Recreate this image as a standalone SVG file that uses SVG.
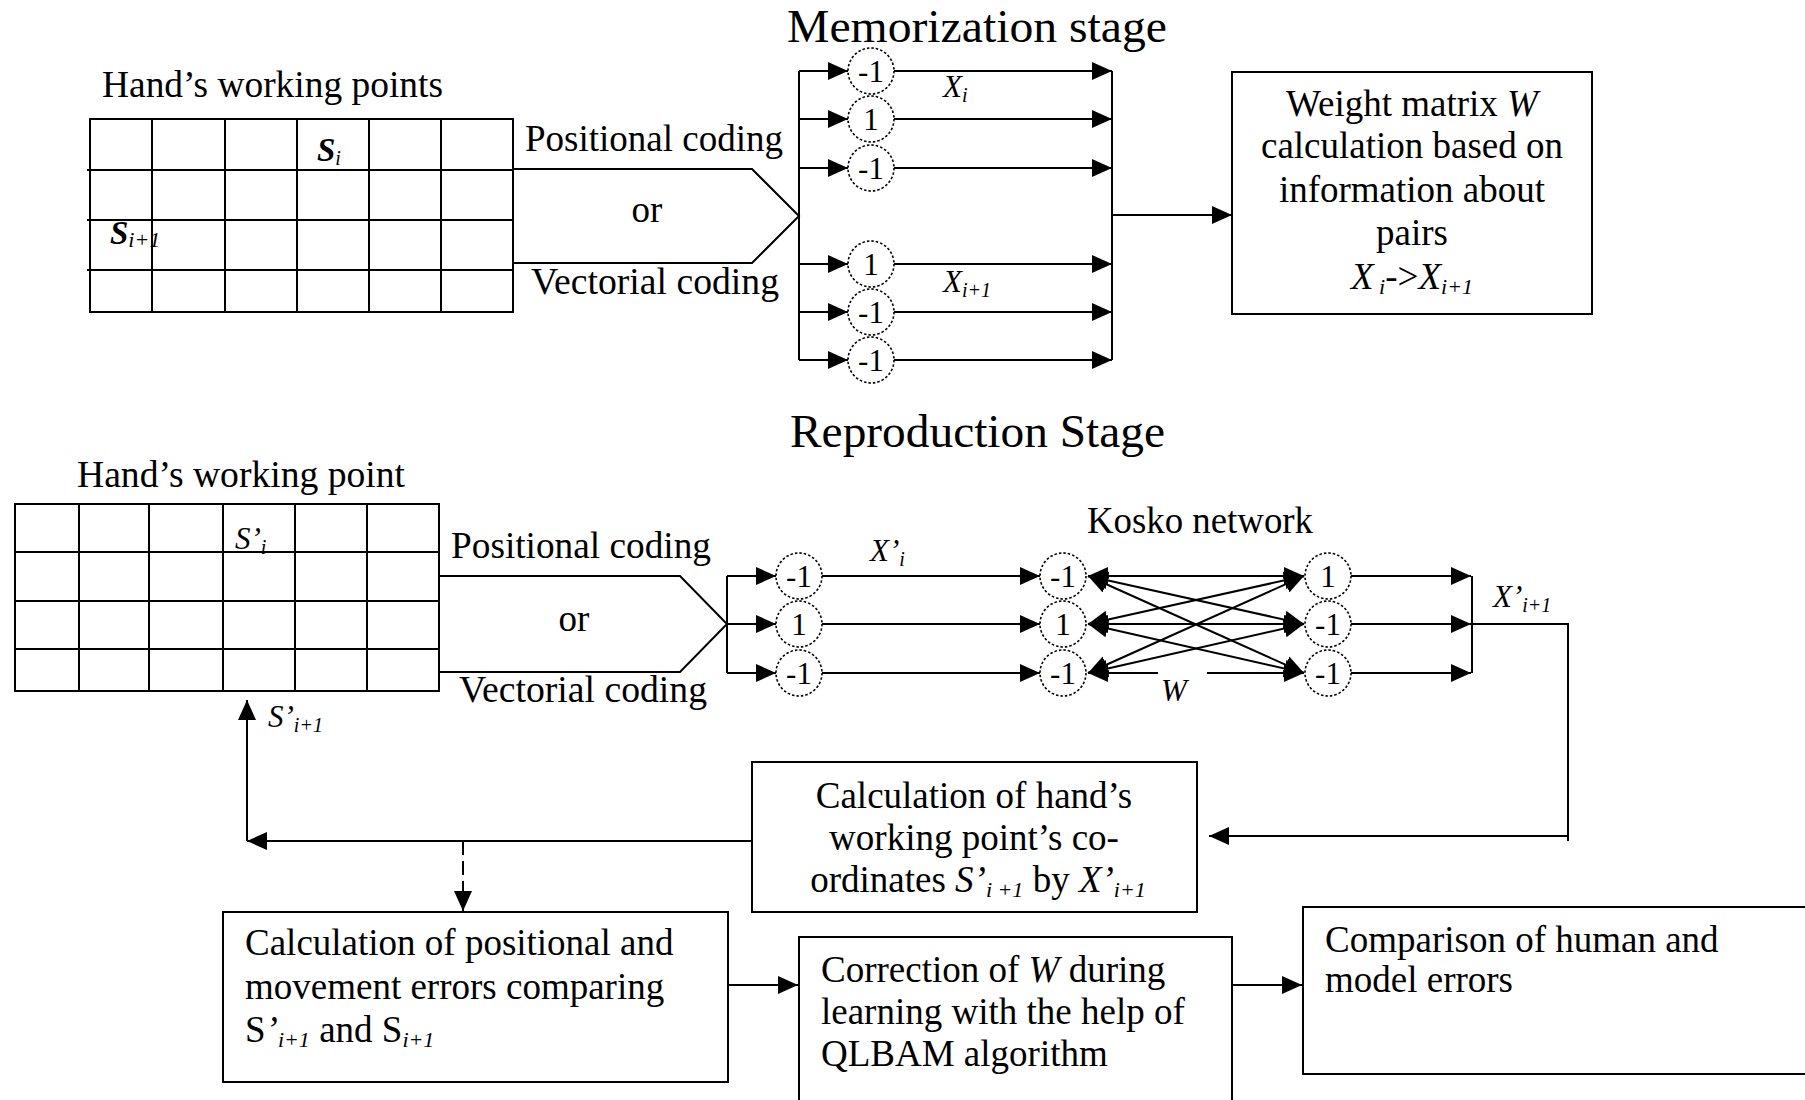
<svg xmlns="http://www.w3.org/2000/svg" width="1805" height="1100" viewBox="0 0 1805 1100">
<defs>
<style>
.ln{stroke:#000;stroke-width:2;fill:none}
.dash{stroke:#000;stroke-width:2;fill:none;stroke-dasharray:14 6}
.box{fill:#fff;stroke:#000;stroke-width:2}
.grid{fill:none;stroke:#000;stroke-width:2}
.nd{fill:#fff;stroke:#000;stroke-width:1.6;stroke-dasharray:2.5 2}
.t{font-family:"Liberation Serif","Times New Roman",serif;fill:#000;font-size:37px}
.ttl{font-family:"Liberation Serif","Times New Roman",serif;fill:#000;font-size:47px}
.num{font-family:"Liberation Serif","Times New Roman",serif;fill:#000;font-size:31px;text-anchor:middle}
.it{font-family:"Liberation Serif","Times New Roman",serif;fill:#000;font-size:31px;font-style:italic}
.i{font-style:italic}
.mid{text-anchor:middle}
</style>
<marker id="ah" viewBox="0 0 20 18" refX="20" refY="9" markerWidth="20" markerHeight="18" markerUnits="userSpaceOnUse" orient="auto-start-reverse">
<path d="M0,0 L20,9 L0,18 z" fill="#000" stroke="none"/>
</marker>
</defs>
<rect width="1805" height="1100" fill="#fff"/>

<!-- Titles -->
<text class="ttl" x="787" y="42" textLength="380" lengthAdjust="spacingAndGlyphs">Memorization stage</text>
<text class="ttl" x="790" y="447" textLength="375" lengthAdjust="spacingAndGlyphs">Reproduction Stage</text>

<!-- Top grid -->
<g id="grid-top">
<text class="t" x="102" y="97" textLength="341" lengthAdjust="spacingAndGlyphs">Hand’s working points</text>
<rect class="grid" x="90" y="119" width="423" height="193"/>
<path class="grid" d="M87 170H513M87 220H513M87 270H513M152 119V312M225 119V312M297 119V312M369 119V312M441 119V312"/>
<text x="317" y="161" font-family="Liberation Serif,serif" font-size="33" font-weight="bold" font-style="italic">S<tspan font-size="20" font-weight="normal" dy="4">i</tspan></text>
<text x="110" y="244" font-family="Liberation Serif,serif" font-size="33" font-weight="bold" font-style="italic">S<tspan font-size="22" font-weight="normal" dy="3">i+1</tspan></text>
</g>

<g id="coding-top">
<path class="ln" d="M513 169H752L799 216L752 263H513"/>
<text class="t" x="525" y="151" textLength="258" lengthAdjust="spacingAndGlyphs">Positional coding</text>
<text class="t mid" x="647" y="222">or</text>
<text class="t" x="531" y="294" textLength="248" lengthAdjust="spacingAndGlyphs">Vectorial coding</text>
</g>

<!-- Memorization nodes -->
<g id="mem-nodes">
<circle class="nd" cx="871" cy="71" r="23"/><text class="num" x="871" y="82">-1</text>
<circle class="nd" cx="871" cy="119" r="23"/><text class="num" x="871" y="130">1</text>
<circle class="nd" cx="871" cy="168" r="23"/><text class="num" x="871" y="179">-1</text>
<circle class="nd" cx="871" cy="264" r="23"/><text class="num" x="871" y="275">1</text>
<circle class="nd" cx="871" cy="312" r="23"/><text class="num" x="871" y="323">-1</text>
<circle class="nd" cx="871" cy="360" r="23"/><text class="num" x="871" y="371">-1</text>
<text class="it" x="943" y="97">X<tspan font-size="20" dy="5">i</tspan></text>
<text class="it" x="943" y="292">X<tspan font-size="20" dy="5">i+1</tspan></text>
</g>

<g id="weight-box">
<rect class="box" x="1232" y="72" width="360" height="242"/>
<text class="t mid" x="1412" y="116">Weight matrix <tspan class="i">W</tspan></text>
<text class="t mid" x="1412" y="158">calculation based on</text>
<text class="t mid" x="1412" y="202">information about</text>
<text class="t mid" x="1412" y="245">pairs</text>
<text class="t mid" x="1412" y="289"><tspan class="i">X</tspan><tspan class="i" font-size="22" dy="5"> i</tspan><tspan dy="-5">-&gt;</tspan><tspan class="i">X</tspan><tspan class="i" font-size="22" dy="5">i+1</tspan></text>
</g>

<!-- Bottom grid -->
<g id="grid-bottom">
<text class="t" x="77" y="487" textLength="328" lengthAdjust="spacingAndGlyphs">Hand’s working point</text>
<rect class="grid" x="15" y="504" width="424" height="187"/>
<path class="grid" d="M15 552H439M15 601H439M15 649H439M79 504V691M149 504V691M223 504V691M295 504V691M367 504V691"/>
<text class="it" x="235" y="549">S’<tspan font-size="20" dy="5">i</tspan></text>
</g>

<g id="coding-bottom">
<path class="ln" d="M439 576H680L727 624L680 672H439"/>
<text class="t" x="451" y="558" textLength="260" lengthAdjust="spacingAndGlyphs">Positional coding</text>
<text class="t mid" x="574" y="631">or</text>
<text class="t" x="459" y="702" textLength="248" lengthAdjust="spacingAndGlyphs">Vectorial coding</text>
</g>

<g id="rep-nodes-1">
<circle class="nd" cx="799" cy="576" r="23"/><text class="num" x="799" y="587">-1</text>
<circle class="nd" cx="799" cy="624" r="23"/><text class="num" x="799" y="635">1</text>
<circle class="nd" cx="799" cy="673" r="23"/><text class="num" x="799" y="684">-1</text>
<text class="it" x="870" y="561">X’<tspan font-size="20" dy="5">i</tspan></text>
</g>

<g id="kosko">
<text class="t" x="1087" y="533" textLength="226" lengthAdjust="spacingAndGlyphs">Kosko network</text>
<circle class="nd" cx="1063" cy="576" r="23"/><text class="num" x="1063" y="587">-1</text>
<circle class="nd" cx="1063" cy="624" r="23"/><text class="num" x="1063" y="635">1</text>
<circle class="nd" cx="1063" cy="673" r="23"/><text class="num" x="1063" y="684">-1</text>
<circle class="nd" cx="1328" cy="576" r="23"/><text class="num" x="1328" y="587">1</text>
<circle class="nd" cx="1328" cy="624" r="23"/><text class="num" x="1328" y="635">-1</text>
<circle class="nd" cx="1328" cy="673" r="23"/><text class="num" x="1328" y="684">-1</text>
<text class="it" x="1161" y="701">W</text>
<text class="it" x="1493" y="607">X’<tspan font-size="20" dy="5">i+1</tspan></text>
</g>

<g id="calc-coords">
<rect class="box" x="752" y="762" width="445" height="150"/>
<text class="t mid" x="974" y="808">Calculation of hand’s</text>
<text class="t mid" x="974" y="850">working point’s co-</text>
<text class="t mid" x="978" y="892">ordinates <tspan class="i">S’</tspan><tspan class="i" font-size="22" dy="5">i +1</tspan><tspan dy="-5">  by </tspan><tspan class="i">X’</tspan><tspan class="i" font-size="22" dy="5">i+1</tspan></text>
<text class="it" x="268" y="727">S’<tspan font-size="20" dy="5">i+1</tspan></text>
</g>

<g id="errors-box">
<rect class="box" x="223" y="912" width="505" height="170"/>
<text class="t" x="245" y="955">Calculation of positional and</text>
<text class="t" x="245" y="999">movement errors comparing</text>
<text class="t" x="245" y="1042">S<tspan class="i">’</tspan><tspan class="i" font-size="22" dy="5">i+1</tspan><tspan dy="-5"> and S</tspan><tspan class="i" font-size="22" dy="5">i+1</tspan></text>
</g>

<g id="correction-box">
<rect class="box" x="799" y="937" width="433" height="180"/>
<text class="t" x="821" y="982">Correction of <tspan class="i">W</tspan> during</text>
<text class="t" x="821" y="1024">learning with the help of</text>
<text class="t" x="821" y="1066">QLBAM algorithm</text>
</g>

<g id="comparison-box">
<rect class="box" x="1303" y="907" width="520" height="167"/>
<text class="t" x="1325" y="952">Comparison of human and</text>
<text class="t" x="1325" y="992">model errors</text>
</g>

<!-- Connectors -->
<g id="connectors">
<path class="ln" d="M799 71V360"/>
<line class="ln" x1="799" y1="71" x2="848" y2="71" marker-end="url(#ah)"/>
<line class="ln" x1="799" y1="119" x2="848" y2="119" marker-end="url(#ah)"/>
<line class="ln" x1="799" y1="168" x2="848" y2="168" marker-end="url(#ah)"/>
<line class="ln" x1="799" y1="264" x2="848" y2="264" marker-end="url(#ah)"/>
<line class="ln" x1="799" y1="312" x2="848" y2="312" marker-end="url(#ah)"/>
<line class="ln" x1="799" y1="360" x2="848" y2="360" marker-end="url(#ah)"/>
<line class="ln" x1="894" y1="71" x2="1112" y2="71" marker-end="url(#ah)"/>
<line class="ln" x1="894" y1="119" x2="1112" y2="119" marker-end="url(#ah)"/>
<line class="ln" x1="894" y1="168" x2="1112" y2="168" marker-end="url(#ah)"/>
<line class="ln" x1="894" y1="264" x2="1112" y2="264" marker-end="url(#ah)"/>
<line class="ln" x1="894" y1="312" x2="1112" y2="312" marker-end="url(#ah)"/>
<line class="ln" x1="894" y1="360" x2="1112" y2="360" marker-end="url(#ah)"/>
<path class="ln" d="M1112 71V360"/>
<line class="ln" x1="1112" y1="215" x2="1232" y2="215" marker-end="url(#ah)"/>

<path class="ln" d="M727 576V673"/>
<line class="ln" x1="727" y1="576" x2="776" y2="576" marker-end="url(#ah)"/>
<line class="ln" x1="727" y1="624" x2="776" y2="624" marker-end="url(#ah)"/>
<line class="ln" x1="727" y1="673" x2="776" y2="673" marker-end="url(#ah)"/>
<line class="ln" x1="822" y1="576" x2="1040" y2="576" marker-end="url(#ah)"/>
<line class="ln" x1="822" y1="624" x2="1040" y2="624" marker-end="url(#ah)"/>
<line class="ln" x1="822" y1="673" x2="1040" y2="673" marker-end="url(#ah)"/>

<g>
<line class="ln" stroke-width="1.6" x1="1088" y1="576" x2="1304" y2="576" marker-start="url(#ah)" marker-end="url(#ah)"/>
<line class="ln" stroke-width="1.6" x1="1088" y1="576" x2="1304" y2="624" marker-start="url(#ah)" marker-end="url(#ah)"/>
<line class="ln" stroke-width="1.6" x1="1088" y1="576" x2="1304" y2="673" marker-start="url(#ah)" marker-end="url(#ah)"/>
<line class="ln" stroke-width="1.6" x1="1088" y1="624" x2="1304" y2="576" marker-start="url(#ah)" marker-end="url(#ah)"/>
<line class="ln" stroke-width="1.6" x1="1088" y1="624" x2="1304" y2="624" marker-start="url(#ah)" marker-end="url(#ah)"/>
<line class="ln" stroke-width="1.6" x1="1088" y1="624" x2="1304" y2="673" marker-start="url(#ah)" marker-end="url(#ah)"/>
<line class="ln" stroke-width="1.6" x1="1088" y1="673" x2="1304" y2="576" marker-start="url(#ah)" marker-end="url(#ah)"/>
<line class="ln" stroke-width="1.6" x1="1088" y1="673" x2="1304" y2="624" marker-start="url(#ah)" marker-end="url(#ah)"/>
<path class="ln" stroke-width="1.6" d="M1088 673H1158M1207 673H1304" marker-start="url(#ah)" marker-end="url(#ah)"/>
</g>

<line class="ln" x1="1351" y1="576" x2="1471" y2="576" marker-end="url(#ah)"/>
<line class="ln" x1="1351" y1="624" x2="1471" y2="624" marker-end="url(#ah)"/>
<line class="ln" x1="1351" y1="673" x2="1471" y2="673" marker-end="url(#ah)"/>
<path class="ln" d="M1472 576V673"/>
<path class="ln" d="M1472 624H1568V841"/>
<line class="ln" x1="1568" y1="836" x2="1209" y2="836" marker-end="url(#ah)"/>

<line class="ln" x1="752" y1="841" x2="247" y2="841" marker-end="url(#ah)"/>
<line class="ln" x1="247" y1="841" x2="247" y2="700" marker-end="url(#ah)"/>
<line class="dash" x1="463" y1="841" x2="463" y2="911" marker-end="url(#ah)"/>

<line class="ln" x1="728" y1="985" x2="798" y2="985" marker-end="url(#ah)"/>
<line class="ln" x1="1232" y1="985" x2="1302" y2="985" marker-end="url(#ah)"/>
</g>
</svg>
